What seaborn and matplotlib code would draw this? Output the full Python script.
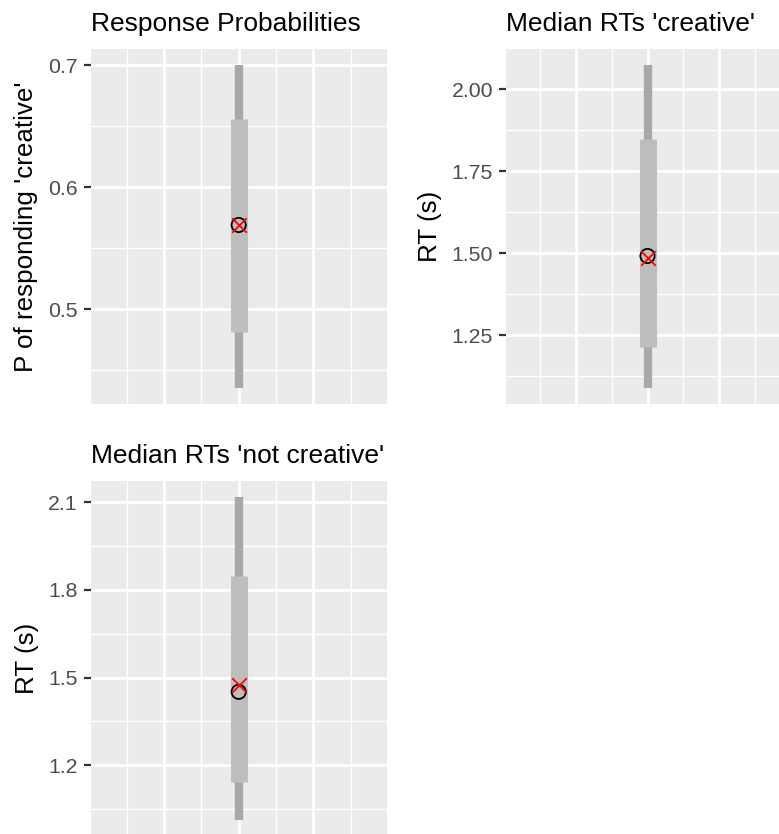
import matplotlib
matplotlib.use("Agg")
import matplotlib.pyplot as plt
import seaborn as sns
import pandas as pd
from matplotlib.ticker import FixedLocator, FormatStrFormatter

# panel data
titles = ["Response Probabilities", "Median RTs 'creative'", "Median RTs 'not creative'"]
ylabels = ["P of responding 'creative'", "RT (s)", "RT (s)"]
outer_lo = [0.435, 1.088, 1.013]
outer_hi = [0.700, 2.072, 2.117]
inner_lo = [0.481, 1.212, 1.142]
inner_hi = [0.656, 1.848, 1.848]
observed = [0.569, 1.491, 1.451]
predicted = [0.569, 1.484, 1.476]
major_ticks = [[0.5, 0.6, 0.7], [1.25, 1.50, 1.75, 2.00], [1.2, 1.5, 1.8, 2.1]]
tick_fmt = ["%.1f", "%.2f", "%.1f"]

sns.set_theme(style="darkgrid", rc={
    "axes.facecolor": "#EBEBEB",
    "grid.color": "white",
    "axes.edgecolor": "none",
})
plt.rcParams["font.family"] = ["Liberation Sans", "DejaVu Sans"]

W, H = 779, 834
fig = plt.figure(figsize=(W / 100, H / 100), dpi=100)

# panel boxes in pixels: left, top, right, bottom
boxes = [(90.7, 49.3, 386.7, 404.3), (506, 49.3, 789, 404.3), (90.7, 481, 386.7, 836)]

for i, (l, t, r, b) in enumerate(boxes):
    ax = fig.add_axes([l / W, 1 - b / H, (r - l) / W, (b - t) / H])
    x = 0
    ax.vlines(x, outer_lo[i], outer_hi[i], color="#A8A8A8", linewidth=6.0, zorder=3)
    ax.vlines(x, inner_lo[i], inner_hi[i], color="#BEBEBE", linewidth=12.3, zorder=4)
    pts = pd.DataFrame({"x": [x], "obs": [observed[i]], "pred": [predicted[i]]})
    sns.scatterplot(data=pts, x="x", y="obs", ax=ax, marker="o", s=105,
                    facecolor="none", edgecolor="black", linewidth=1.3, zorder=5)
    sns.scatterplot(data=pts, x="x", y="pred", ax=ax, marker="x", s=110,
                    color="red", linewidth=1.3, zorder=6)
    ax.margins(y=0.05)
    ax.set_xlim(-1.98, 1.98)
    ax.xaxis.set_major_locator(FixedLocator([-1, 0, 1]))
    ax.xaxis.set_minor_locator(FixedLocator([-1.5, -0.5, 0.5, 1.5]))
    mt = major_ticks[i]
    step = mt[1] - mt[0]
    ax.yaxis.set_major_locator(FixedLocator(mt))
    ax.yaxis.set_minor_locator(FixedLocator([m - step / 2 for m in mt] + [mt[-1] + step / 2]))
    ax.yaxis.set_major_formatter(FormatStrFormatter(tick_fmt[i]))
    ax.grid(which="major", color="white", linewidth=2.0)
    ax.grid(which="minor", color="white", linewidth=1.0)
    ax.set_axisbelow(True)
    ax.tick_params(axis="x", which="both", length=0, labelbottom=False)
    ax.tick_params(axis="y", which="major", length=4.8, width=1.6, color="#333333",
                   pad=4.5, labelsize=15.3, labelcolor="#4D4D4D", left=True)
    ax.tick_params(axis="y", which="minor", length=0)
    ax.set_xlabel("")
    ax.set_ylabel(ylabels[i], fontsize=18.7, color="black", labelpad=7)
    ax.set_title(titles[i], loc="left", fontsize=19, color="black", pad=13)

fig.savefig("out.png", dpi=100)
